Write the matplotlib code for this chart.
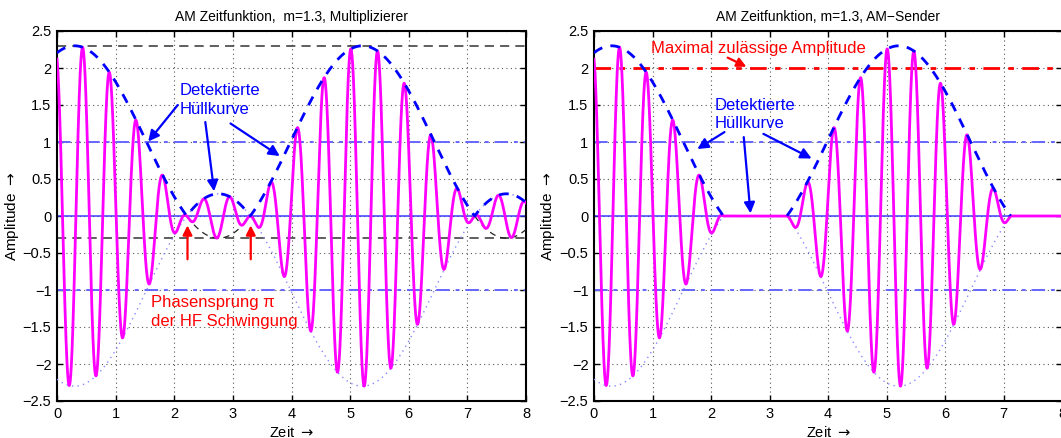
import numpy as np
import matplotlib
matplotlib.use('Agg')
import matplotlib.pyplot as plt

plt.rcParams['font.family'] = ['Liberation Sans', 'DejaVu Sans']
plt.rcParams['axes.unicode_minus'] = True

# signal parameters
m = 1.3                  # modulation index (title)
env_period = 4.91        # period of the envelope
env_peak_t = 0.30        # time of the first envelope maximum
carrier_period = 0.4574  # period of the HF carrier
carrier_peak_t = 0.437   # time of the first positive carrier peak

# reference levels
env_max_level = 2.3
env_min_level = -0.3
dc_levels = [1, -1]
max_allowed = 2.0

x_ticks = [0, 1, 2, 3, 4, 5, 6, 7, 8]
y_ticks = [-2.5, -2, -1.5, -1, -0.5, 0, 0.5, 1, 1.5, 2, 2.5]

titles = ['AM Zeitfunktion,  m=1.3, Multiplizierer',
          'AM Zeitfunktion, m=1.3, AM\u2212Sender']


def fmt(v):
    return ('%g' % v).replace('-', '\u2212')


def setup_axes(ax, title, ylab_x):
    ax.set_xlim(0, 8)
    ax.set_ylim(-2.5, 2.5)
    ax.set_xticks(x_ticks)
    ax.set_xticklabels([fmt(v) for v in x_ticks])
    ax.set_yticks(y_ticks)
    ax.set_yticklabels([fmt(v) for v in y_ticks])
    ax.tick_params(direction='in', top=True, right=True, labelsize=10.5,
                   length=4, width=1, pad=4)
    ax.grid(True, color='#555555', linestyle=(0, (1, 3)), linewidth=0.8)
    for sp in ax.spines.values():
        sp.set_linewidth(1.5)
    ax.set_title(title, fontsize=10, pad=7)
    ax.set_xlabel(r'Zeit $\rightarrow$', fontsize=10.5, labelpad=3)
    ax.set_ylabel(r'Amplitude $\rightarrow$', fontsize=11)
    ax.yaxis.set_label_coords(ylab_x, 0.5)


def ref_lines(ax):
    ax.axhline(0, color='#3333ff', lw=1.3, alpha=0.8, zorder=2)
    for lv in dc_levels:
        ax.axhline(lv, color='#6666ff', lw=1.4, linestyle=(0, (7, 3, 2, 3)), zorder=2)


t = np.linspace(0, 8, 4001)
env = 1 + m * np.cos(2 * np.pi * (t - env_peak_t) / env_period)
carrier = np.cos(2 * np.pi * (t - carrier_peak_t) / carrier_period)

fig = plt.figure(figsize=(10.61, 4.38), dpi=100)
ax1 = fig.add_axes([57 / 1061, 37 / 438, 469 / 1061, 370 / 438])
ax2 = fig.add_axes([594 / 1061, 37 / 438, 468 / 1061, 370 / 438])

blue_arrow = dict(arrowstyle='-|>', color='#0000ff', lw=1.6, mutation_scale=16,
                  shrinkA=0, shrinkB=0)
red_arrow = dict(arrowstyle='-|>', color='#ff0000', lw=1.6, mutation_scale=14,
                 shrinkA=0, shrinkB=0)

#left: multiplier, envelope may go negative
setup_axes(ax1, titles[0], -0.077)
ref_lines(ax1)
ax1.axhline(env_max_level, color='#333333', lw=1.1, linestyle=(0, (6, 4)), zorder=2)
ax1.axhline(env_min_level, color='#333333', lw=1.1, linestyle=(0, (6, 4)), zorder=2)
ax1.plot(t, -env, color='#8888ff', lw=1, linestyle=(0, (1, 3)), zorder=3)
ax1.plot(t, np.where(env <= 0, env, np.nan), color='#222222', lw=0.9,
         linestyle=(0, (5, 4)), zorder=3)
ax1.plot(t, env * carrier, color='#ff00ff', lw=2, zorder=4)
ax1.plot(t, np.abs(env), color='#0000ff', lw=2, linestyle=(0, (3.5, 3)), zorder=5)

ax1.text(2.09, 1.57, 'Detektierte\nH\u00fcllkurve', color='#0000ff', fontsize=12,
         ha='left', va='center', linespacing=1.3)
ax1.annotate('', xy=(1.556, 1.007), xytext=(2.06, 1.50), arrowprops=blue_arrow)
ax1.annotate('', xy=(2.68, 0.334), xytext=(2.53, 1.27), arrowprops=blue_arrow)
ax1.annotate('', xy=(3.80, 0.81), xytext=(2.96, 1.25), arrowprops=blue_arrow)

ax1.annotate('', xy=(2.226, -0.127), xytext=(2.226, -0.585), arrowprops=red_arrow)
ax1.annotate('', xy=(3.305, -0.127), xytext=(3.305, -0.585), arrowprops=red_arrow)
ax1.text(1.60, -1.30, 'Phasensprung \u03c0\nder HF Schwingung', color='#ff0000',
         fontsize=12, ha='left', va='center', linespacing=1.3)

#right: AM transmitter, envelope clipped at zero
env_pos = np.maximum(env, 0)
setup_axes(ax2, titles[1], -0.079)
ref_lines(ax2)
ax2.axhline(max_allowed, color='#ff0000', lw=2, linestyle=(0, (6, 3, 2, 3)), zorder=2)
ax2.plot(t, -env_pos, color='#8888ff', lw=1, linestyle=(0, (1, 3)), zorder=3)
ax2.plot(t, env_pos * carrier, color='#ff00ff', lw=2, zorder=4)
ax2.plot(t, np.where(env > 0, env, np.nan), color='#0000ff', lw=2,
         linestyle=(0, (3.5, 3)), zorder=5)

ax2.text(0.97, 2.265, 'Maximal zul\u00e4ssige Amplitude', color='#ff0000', fontsize=12,
         ha='left', va='center')
ax2.annotate('', xy=(2.605, 2.017), xytext=(2.285, 2.14), arrowprops=red_arrow)

ax2.text(2.06, 1.37, 'Detektierte\nH\u00fcllkurve', color='#0000ff', fontsize=12,
         ha='left', va='center', linespacing=1.3)
ax2.annotate('', xy=(1.766, 0.905), xytext=(2.23, 1.134), arrowprops=blue_arrow)
ax2.annotate('', xy=(2.675, 0.036), xytext=(2.56, 1.066), arrowprops=blue_arrow)
ax2.annotate('', xy=(3.72, 0.777), xytext=(2.896, 1.11), arrowprops=blue_arrow)

fig.savefig('out.png', dpi=100)
